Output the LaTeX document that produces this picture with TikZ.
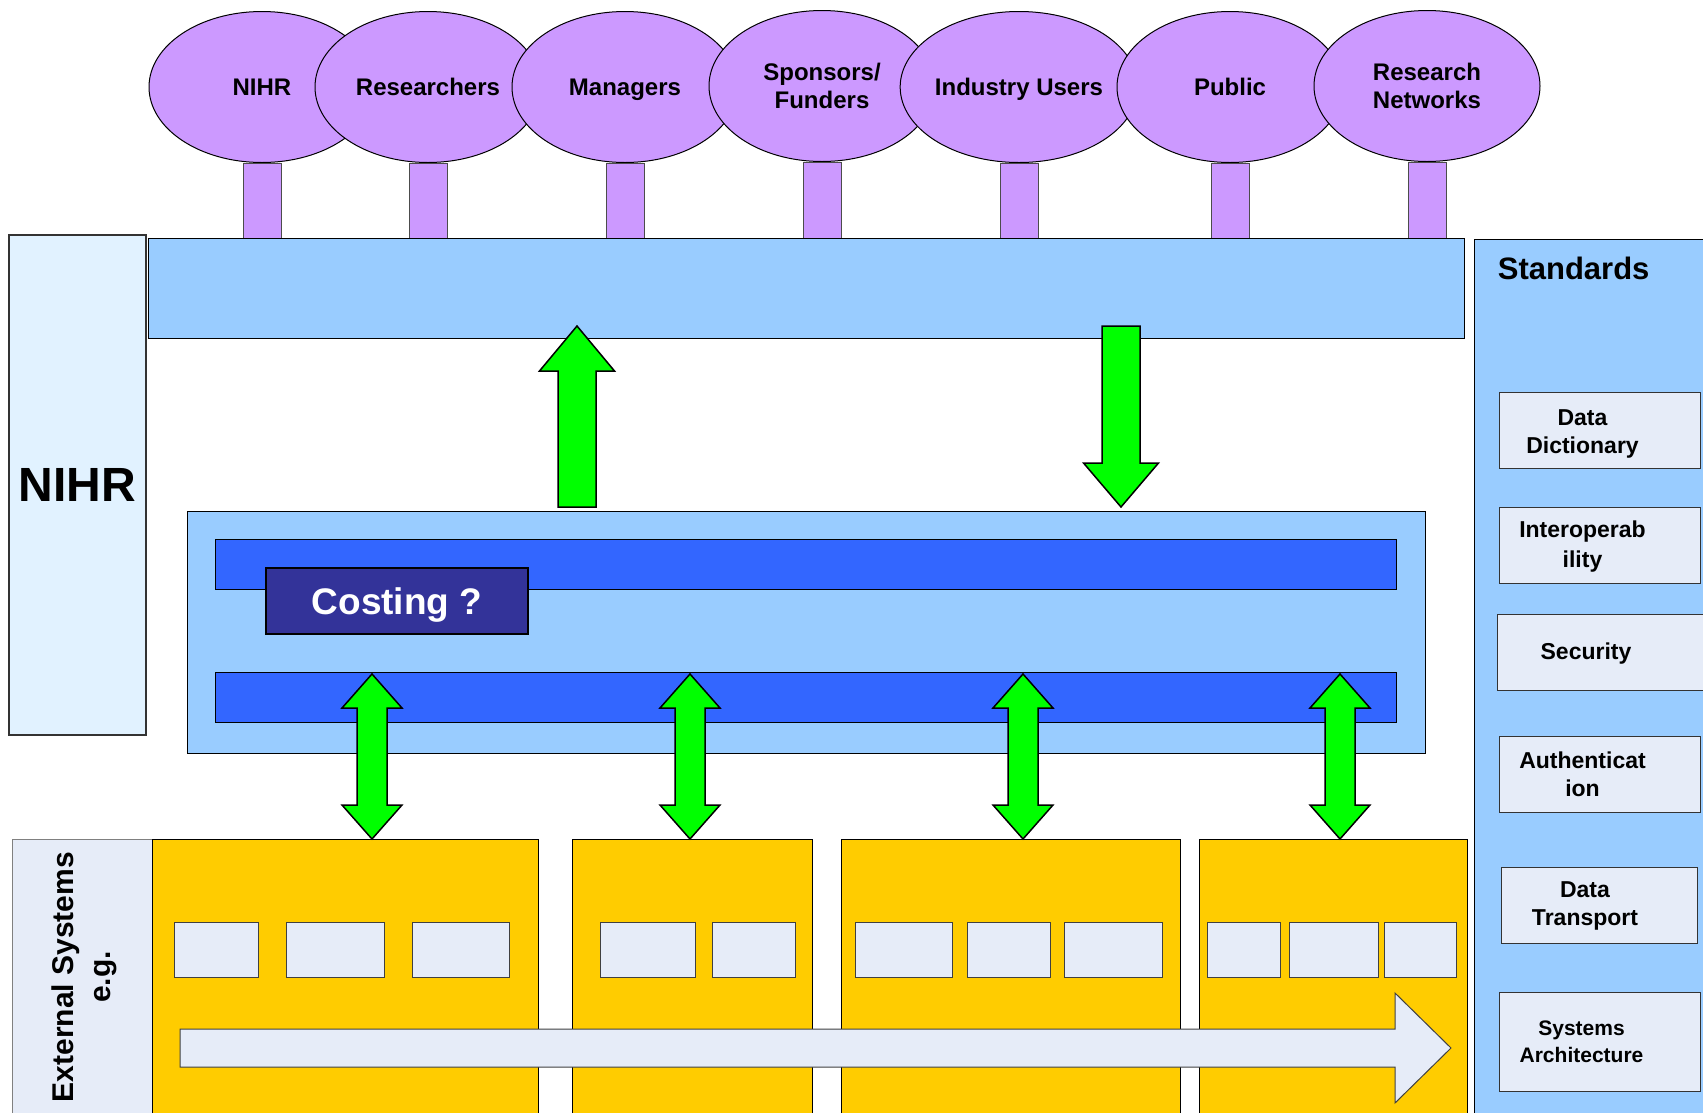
\documentclass[tikz,border=0pt]{standalone}
\usepackage{fontspec}
\setmainfont{Liberation Sans}
\usetikzlibrary{shapes.geometric,positioning}
\definecolor{lilac}{HTML}{CC99FF}
\definecolor{paleblue}{HTML}{99CCFF}
\definecolor{midblue}{HTML}{3366FF}
\definecolor{costblue}{HTML}{333399}
\definecolor{arrowgreen}{HTML}{00FF00}
\definecolor{gold}{HTML}{FFCC00}
\definecolor{mist}{HTML}{E6ECF8}
\definecolor{ice}{HTML}{E1F2FF}

\begin{document}
\begin{tikzpicture}[x=1pt,y=-1pt,line width=1pt,
	user/.style={ellipse,draw,fill=lilac,minimum width=226,minimum height=151,inner sep=0pt,align=center,font=\bfseries\fontsize{24}{28}\selectfont},
	oneline/.style={text height=17pt,text depth=0pt},
	stem/.style={draw=black!70,fill=lilac,inner sep=0pt,minimum width=38,minimum height=76},
	panel/.style={draw,fill=paleblue,inner sep=0pt},
	lane/.style={draw,fill=midblue,inner sep=0pt,minimum width=1181,minimum height=50},
	stdbox/.style={draw=black!80,fill=mist,inner sep=0pt,minimum height=76},
	stdtext/.style={align=center,font=\bfseries\fontsize{23}{28}\selectfont},
	sysbox/.style={draw,fill=gold,inner sep=0pt,anchor=north west,minimum height=300},
	module/.style={draw=black!75,fill=mist},
	greenarrow/.style={draw,fill=arrowgreen,line width=1.5pt,line join=miter}]
		\useasboundingbox (0,0) rectangle (1703,1112);
		\clip (0,0) rectangle (1703,1112);
		% stakeholders
		\node[user,oneline] (nihrfan) at (262,87) {NIHR};
		\node[user,oneline] (researchers) at (428,87) {Researchers};
		\node[user,oneline] (managers) at (625,87) {Managers};
		\node[user] (sponsors) at (822,86) {Sponsors/\\Funders};
		\node[user,oneline] (industry) at (1019,87) {Industry Users};
		\node[user,oneline] (public) at (1230,87) {Public};
		\node[user] (networks) at (1427,86) {Research\\Networks};
		\foreach \u in {nihrfan,researchers,managers,sponsors,industry,public,networks}
			\node[stem,below=0pt of \u] (\u-stem) {};
		\node[panel,minimum width=1316,minimum height=100] (portal) at (806,288) {};
		% side boxes
		\node[draw=black!80,line width=1.3pt,fill=ice,minimum width=137,minimum height=500,font=\bfseries\fontsize{48}{50}\selectfont] (nihrside) at (77.5,485) {NIHR};
		\node[panel,anchor=north west,minimum width=260,minimum height=900] (standards) at (1474,239) {};
		\node[anchor=west,font=\bfseries\fontsize{31}{34}\selectfont] (stdtitle) at (1494,268) {Standards};
		\node[stdbox,minimum width=201] (dict) at (1599.5,430) {};
		\node[stdbox,minimum width=201] (interop) at (1599.5,545) {};
		\node[stdbox,minimum width=206] (security) at (1600,652) {};
		\node[stdbox,minimum width=201] (auth) at (1599.5,774) {};
		\node[stdbox,minimum width=196] (transport) at (1599,905) {};
		\node[stdbox,minimum width=201,minimum height=99] (arch) at (1599.5,1042) {};
		\node[stdtext] (dict-t) at ([xshift=-17,yshift=-4]dict.center) {Data\\Dictionary};
		\node[stdtext,font=\bfseries\fontsize{23}{30}\selectfont] (interop-t) at ([xshift=-17,yshift=-2]interop.center) {Interoperab\\ility};
		\node[stdtext] (security-t) at ([xshift=-14,yshift=-2]security.center) {Security};
		\node[stdtext] (auth-t) at ([xshift=-17]auth.center) {Authenticat\\ion};
		\node[stdtext] (transport-t) at ([xshift=-14,yshift=-1]transport.center) {Data\\Transport};
		\node[stdtext,font=\bfseries\fontsize{21}{27}\selectfont] (arch-t) at ([xshift=-18]arch.center) {Systems\\Architecture};
		% middle layer
		\node[panel,minimum width=1238,minimum height=242] (hub) at (806,632) {};
		\node[lane] (upperlane) at (805.5,564) {};
		\node[lane] (lowerlane) at (805.5,697) {};
		\node[draw,line width=2pt,fill=costblue,text=white,minimum width=262,minimum height=66,text height=27pt,text depth=0pt,font=\bfseries\fontsize{37}{40}\selectfont] (costing) at (397,601) {Costing ?};
		% external systems
		\node[draw=black!50,fill=mist,anchor=north west,minimum width=140,minimum height=300] (external) at (12,839) {};
		\node[rotate=90,align=center,font=\bfseries\fontsize{30}{37}\selectfont] (external-t) at (84,977) {External Systems\\e.g.};
		\node[sysbox,minimum width=386] (sysa) at (152,839) {};
		\node[sysbox,minimum width=240] (sysb) at (572,839) {};
		\node[sysbox,minimum width=339] (sysc) at (841,839) {};
		\node[sysbox,minimum width=268] (sysd) at (1199,839) {};
		\foreach \l/\r in {174/258,286/384,412/509,600/695,712/795,855/952,967/1050,1064/1162,1207/1280,1289/1378,1384/1456}
			\draw[module] (\l,922) rectangle (\r,977);
		\draw[module] (180,1029) -- (1395,1029) -- (1395,993) -- (1451,1048) -- (1395,1103) -- (1395,1067) -- (180,1067) -- cycle;
		% arrows
		\draw[greenarrow] (577,326) -- (614.5,371) -- (596,371) -- (596,507) -- (558,507) -- (558,371) -- (539.5,371) -- cycle;
		\draw[greenarrow] (1121,507) -- (1158.5,463) -- (1140,463) -- (1140,326) -- (1102,326) -- (1102,463) -- (1083.5,463) -- cycle;
		\foreach \x in {372,690,1023,1340}
			\draw[greenarrow] (\x,674) -- (\x+30,708) -- (\x+15,708) -- (\x+15,805) -- (\x+30,805) -- (\x,839)
				-- (\x-30,805) -- (\x-15,805) -- (\x-15,708) -- (\x-30,708) -- cycle;
\end{tikzpicture}
\end{document}
